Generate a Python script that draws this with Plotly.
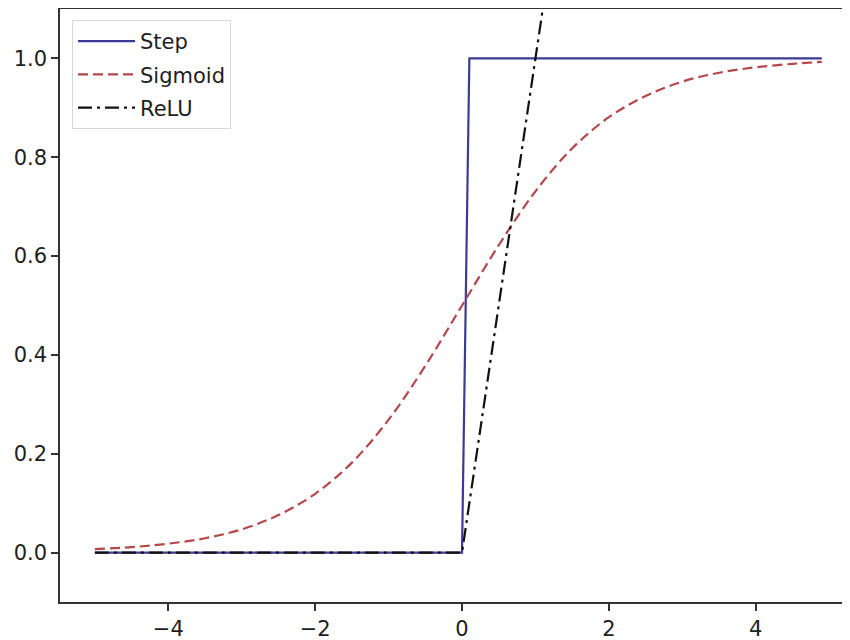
import plotly.graph_objects as go

# Step function
step_x = [-5.0, 0.0, 0.1, 4.9]
step_y = [0.0, 0.0, 1.0, 1.0]

# Sigmoid
sig_x = [-5.0, -4.5, -4.0, -3.5, -3.0, -2.5, -2.0, -1.5, -1.0, -0.5, 0.0,
         0.5, 1.0, 1.5, 2.0, 2.5, 3.0, 3.5, 4.0, 4.5, 4.9]
sig_y = [0.007, 0.011, 0.018, 0.029, 0.047, 0.076, 0.119, 0.182, 0.269, 0.378, 0.5,
         0.622, 0.731, 0.818, 0.881, 0.924, 0.953, 0.971, 0.982, 0.989, 0.993]

# ReLU
relu_x = [-5.0, 0.0, 4.9]
relu_y = [0.0, 0.0, 4.9]

x_ticks = [-4, -2, 0, 2, 4]
x_tick_labels = ["\u22124", "\u22122", "0", "2", "4"]
y_ticks = [0.0, 0.2, 0.4, 0.6, 0.8, 1.0]
y_tick_labels = ["0.0", "0.2", "0.4", "0.6", "0.8", "1.0"]

FONT = "DejaVu Sans"
AX = "#333333"
TXT = "#1e1e1e"

fig = go.Figure()
fig.add_trace(go.Scatter(x=step_x, y=step_y, mode="lines", name="Step", legendgroup="a",
                         line=dict(color="#3b3b96", width=2.2)))
fig.add_trace(go.Scatter(x=sig_x, y=sig_y, mode="lines", name="Sigmoid", legendgroup="b",
                         line=dict(color="#b5474b", width=2.2, dash="10px,5px", shape="spline")))
fig.add_trace(go.Scatter(x=relu_x, y=relu_y, mode="lines", name="ReLU", legendgroup="c",
                         line=dict(color="#111111", width=2.2, dash="14px,5px,3px,5px")))

# page body has an 8px margin: figure sized so that it fills the 850x640 window exactly
fig.update_layout(
    width=842, height=632,
    margin=dict(l=52, r=0, t=1, b=38, autoexpand=False),
    paper_bgcolor="white", plot_bgcolor="white",
    font=dict(family=FONT, size=21, color=TXT),
    showlegend=True,
    legend=dict(x=0.0152, y=0.9815, xanchor="left", yanchor="top",
                bgcolor="white", bordercolor="#d8d8d8", borderwidth=1,
                tracegroupgap=3, itemwidth=57,
                font=dict(family=FONT, size=21, color=TXT)),
    xaxis=dict(range=[-5.475, 5.284], tickvals=x_ticks, ticktext=x_tick_labels,
               automargin=False,
               showgrid=False, zeroline=False, showline=True, linecolor=AX, linewidth=1.5,
               mirror=True, ticks="outside", ticklen=7, tickwidth=1.5, tickcolor=AX,
               tickfont=dict(family=FONT, size=21, color=TXT)),
    yaxis=dict(range=[-0.1, 1.1], tickvals=y_ticks, ticktext=y_tick_labels,
               automargin=False,
               showgrid=False, zeroline=False, showline=True, linecolor=AX, linewidth=1.5,
               mirror=False, ticks="outside", ticklen=7, tickwidth=1.5, tickcolor=AX,
               tickfont=dict(family=FONT, size=21, color=TXT)),
)

fig.write_html("out.html")
